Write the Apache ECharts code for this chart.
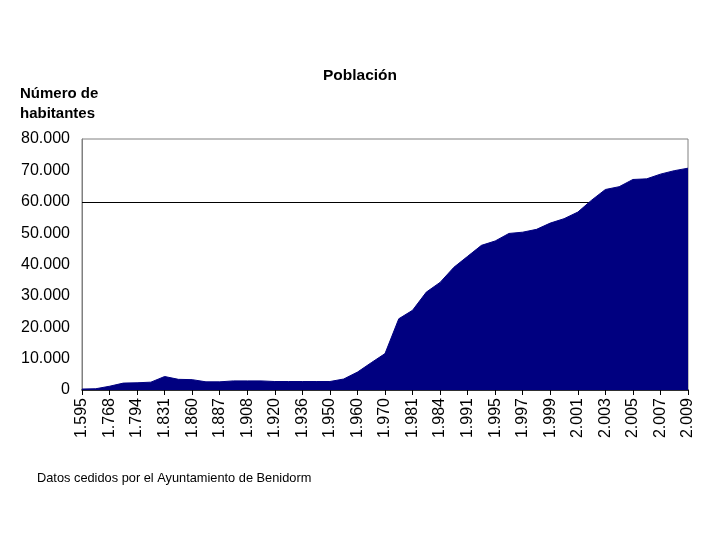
<!DOCTYPE html>
<html>
<head>
<meta charset="utf-8">
<script src="https://cdn.jsdelivr.net/npm/echarts@6/dist/echarts.min.js"></script>
<style>html,body{margin:0;padding:0;background:#fff}#c{width:720px;height:540px}</style>
</head>
<body>
<div id="c"></div>
<script>
// Categories (years, every other one labelled)
const years = ['1.595','1.713','1.768','1.787','1.794','1.826','1.831','1.857','1.860','1.877','1.887','1.900','1.908','1.910','1.920','1.930','1.936','1.940','1.950','1.955','1.960','1.965','1.970','1.975','1.981','1.982','1.984','1.986','1.991','1.993','1.995','1.996','1.997','1.998','1.999','2.000','2.001','2.002','2.003','2.004','2.005','2.006','2.007','2.008','2.009'];
// Population (número de habitantes)
const population = [300,400,1200,2200,2300,2500,4300,3400,3300,2600,2600,2900,2900,2900,2700,2700,2700,2700,2700,3500,5700,8700,11600,22700,25400,31200,34300,39100,42600,46100,47500,49900,50300,51200,53200,54600,56700,60500,63900,64800,67100,67300,68800,69900,70700];
// Y axis ticks
const yTicks = [0,10000,20000,30000,40000,50000,60000,70000,80000];
const gridLineValue = 60000;

const fmt = v => String(v).replace(/\B(?=(\d{3})+(?!\d))/g, '.');
const font = 'Arial, "Liberation Sans", sans-serif';

const chart = echarts.init(document.getElementById('c'), null, {renderer:'canvas'});
chart.setOption({
  backgroundColor: '#ffffff',
  animation: false,
  title: {
    text: 'Población', left: 'center', top: 63,
    textStyle: {fontFamily: font, fontSize: 15.5, fontWeight: 'bold', color: '#000'}
  },
  graphic: [
    {type:'text', left: 20, top: 84, style:{text:'Número de\nhabitantes', font:'bold 15px Arial, "Liberation Sans", sans-serif', lineHeight:20, fill:'#000'}},
    {type:'text', left: 37, top: 472, style:{text:'Datos cedidos por el Ayuntamiento de Benidorm', font:'12.8px Arial, "Liberation Sans", sans-serif', fill:'#000'}}
  ],
  grid: {left: 82, right: 32, top: 139, bottom: 150, show: true, borderColor: '#808080', borderWidth: 1, backgroundColor: 'transparent'},
  xAxis: {
    type: 'category', data: years, boundaryGap: false,
    axisLine: {show: true, lineStyle: {color: '#000', width: 1.5}},
    axisTick: {show: true, interval: 1, length: 5, lineStyle: {color: '#000'}},
    axisLabel: {interval: 1, rotate: 90, margin: 8, fontFamily: font, fontSize: 16, color: '#000'},
    splitLine: {show: false}
  },
  yAxis: {
    type: 'value', min: yTicks[0], max: yTicks[yTicks.length-1], interval: yTicks[1]-yTicks[0],
    axisLine: {show: true, lineStyle: {color: '#808080'}},
    axisTick: {show: false},
    axisLabel: {margin: 12, fontFamily: font, fontSize: 16, color: '#000', formatter: fmt},
    splitLine: {show: false}
  },
  series: [{
    type: 'line', data: population, symbol: 'none', smooth: false,
    lineStyle: {color: '#000080', width: 1},
    areaStyle: {color: '#000080', opacity: 1},
    z: 2,
    markLine: {
      silent: true, symbol: 'none', label: {show: false},
      lineStyle: {color: '#000', type: 'solid', width: 1},
      data: [{yAxis: gridLineValue}],
      z: 1
    }
  }]
});
</script>
</body>
</html>
